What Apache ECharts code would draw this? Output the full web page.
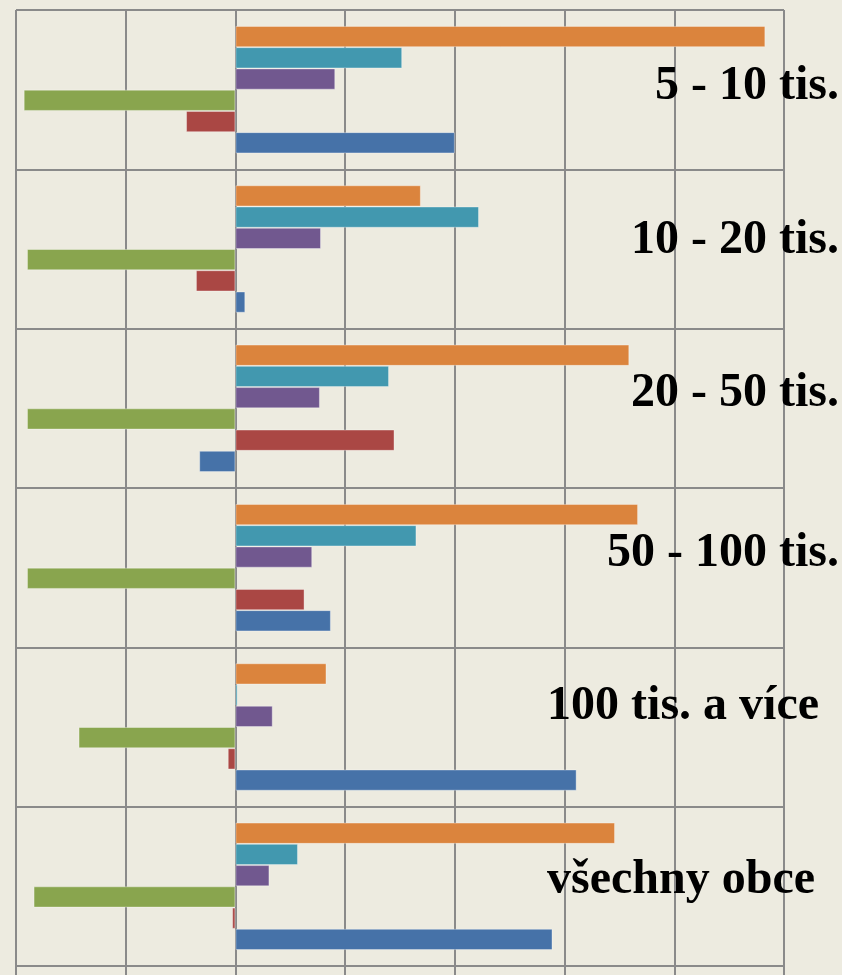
<!DOCTYPE html>
<html>
<head>
<meta charset="utf-8">
<script src="https://cdn.jsdelivr.net/npm/echarts@6/dist/echarts.min.js"></script>
<style>
    html, body {margin: 0; padding: 0; background: #EDEBE0;}
    #main_chart {width: 842px; height: 975px;}
</style>
</head>
<body>
<div id="main_chart"></div>
<script>
    // velikostní skupiny obcí (shora dolů)
    const categories = ['5 - 10 tis.', '10 - 20 tis.', '20 - 50 tis.', '50 - 100 tis.', '100 tis. a více', 'všechny obce'];

    // hodnoty řad
    const blueValues = [20.0, 0.9, -3.3, 8.7, 31.1, 28.9];
    const redValues = [-4.5, -3.6, 14.5, 6.3, -0.7, -0.3];
    const greenValues = [-19.3, -19.0, -19.0, -19.0, -14.3, -18.4];
    const purpleValues = [9.1, 7.8, 7.7, 7.0, 3.4, 3.1];
    const tealValues = [15.2, 22.2, 14.0, 16.5, 0.2, 5.7];
    const orangeValues = [48.3, 16.9, 35.9, 36.7, 8.3, 34.6];

    const xTicks = {min: -20, max: 50, interval: 10};

    let myChart = echarts.init(document.getElementById('main_chart'));

    let gridColor = '#8A8A8A';
    let labelFont = {fontFamily: 'Liberation Serif', fontWeight: 'bold', fontSize: 48, color: '#000'};

    // posuny popisků (padding: nahoře, vpravo, dole, vlevo)
    let labelPads = [[0, 0, 6, 0], [0, 0, 17, 0], [0, 0, 30, 0], [0, 0, 28, 0], [0, 20, 41, 0], [0, 24, 12, 0]];
    let rich = {};
    labelPads.forEach((pad, idx) => {
        rich['l' + idx] = Object.assign({padding: pad}, labelFont);
    });

    let makeSeries = (name, values, color) => {
        return {
            name: name,
            type: 'bar',
            data: values,
            barGap: '0%',
            barCategoryGap: '20%',
            animation: false,
            itemStyle: {
                color: color,
                borderColor: 'rgba(255,255,255,0.35)',
                borderWidth: 1
            }
        }
    };

    let option = {
        backgroundColor: '#EDEBE0',
        grid: {left: 16, right: 57, top: 10, bottom: 9, containLabel: false},
        xAxis: {
            type: 'value',
            min: xTicks.min,
            max: xTicks.max,
            interval: xTicks.interval,
            axisLine: {show: true, lineStyle: {color: gridColor, width: 2}},
            axisTick: {show: true, length: 10, lineStyle: {color: gridColor, width: 2}},
            axisLabel: {show: false},
            splitLine: {show: true, lineStyle: {color: gridColor, width: 2}}
        },
        yAxis: {
            type: 'category',
            data: categories,
            inverse: true,
            position: 'right',
            axisLine: {show: false},
            axisTick: {show: false},
            splitLine: {show: true, interval: 0, lineStyle: {color: gridColor, width: 2}},
            axisLabel: {
                interval: 0,
                align: 'right',
                margin: 55,
                formatter: (value, idx) => '{l' + idx + '|' + value + '}',
                rich: rich
            }
        },
        // pořadí řad v pásu shora dolů
        series: [
            makeSeries('Řada 6', orangeValues, '#DB843D'),
            makeSeries('Řada 5', tealValues, '#4298AF'),
            makeSeries('Řada 4', purpleValues, '#71588F'),
            makeSeries('Řada 3', greenValues, '#89A54E'),
            makeSeries('Řada 2', redValues, '#AA4744'),
            makeSeries('Řada 1', blueValues, '#4672A8')
        ]
    };

    myChart.setOption(option);
</script>
</body>
</html>
